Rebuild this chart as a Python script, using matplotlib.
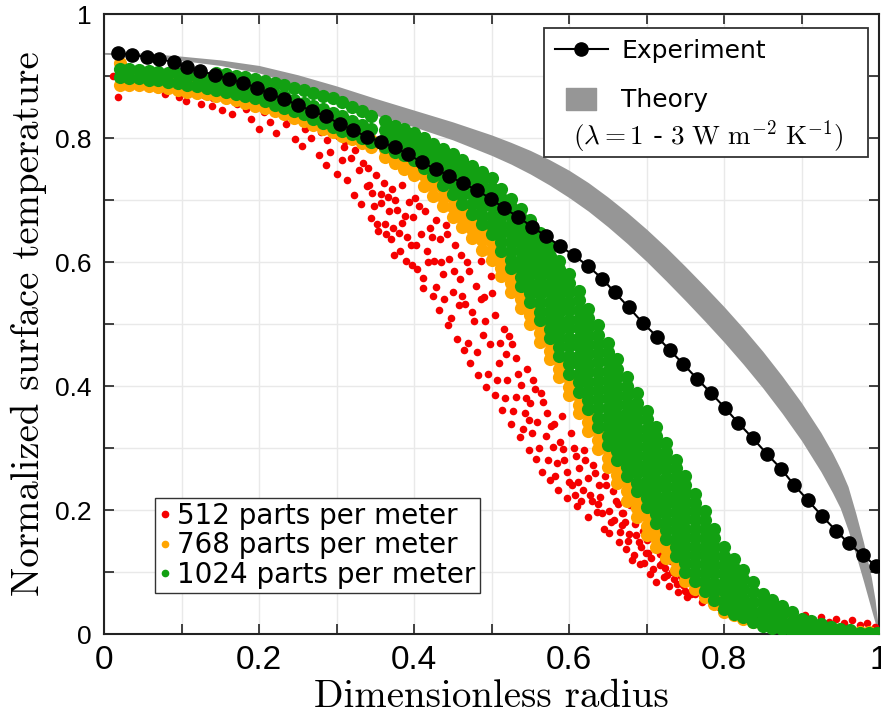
import numpy as np
import matplotlib
matplotlib.use('Agg')
import matplotlib.pyplot as plt
from matplotlib.lines import Line2D
from matplotlib.patches import Rectangle

plt.rcParams['mathtext.fontset'] = 'cm'

# ---------------- data ----------------
exp_x = [0.018, 0.036, 0.055, 0.071, 0.090, 0.107, 0.124, 0.143, 0.161, 0.179,
         0.197, 0.214, 0.232, 0.250, 0.268, 0.286, 0.304, 0.321, 0.339, 0.357,
         0.375, 0.392, 0.410, 0.428, 0.445, 0.463, 0.481, 0.499, 0.516, 0.534,
         0.552, 0.570, 0.588, 0.606, 0.624, 0.643, 0.659, 0.677, 0.695, 0.714,
         0.730, 0.747, 0.765, 0.783, 0.801, 0.818, 0.837, 0.855, 0.874, 0.890,
         0.908, 0.926, 0.945, 0.961, 0.979, 0.996]
exp_y = [0.937, 0.934, 0.931, 0.927, 0.923, 0.915, 0.908, 0.902, 0.895, 0.889,
         0.881, 0.871, 0.863, 0.853, 0.844, 0.835, 0.823, 0.813, 0.802, 0.794,
         0.785, 0.774, 0.761, 0.750, 0.739, 0.727, 0.716, 0.702, 0.687, 0.673,
         0.657, 0.642, 0.626, 0.611, 0.594, 0.573, 0.551, 0.527, 0.502, 0.479,
         0.458, 0.436, 0.412, 0.389, 0.365, 0.341, 0.316, 0.291, 0.266, 0.241,
         0.216, 0.191, 0.166, 0.146, 0.127, 0.110]

theory_x = [0.0, 0.05, 0.10, 0.15, 0.20, 0.25, 0.30, 0.35, 0.40, 0.45, 0.50, 0.525,
            0.55, 0.575, 0.60, 0.625, 0.65, 0.675, 0.70, 0.725, 0.75, 0.775, 0.80,
            0.825, 0.85, 0.875, 0.90, 0.925, 0.94, 0.95, 0.96, 0.97, 0.98, 0.99,
            0.995, 1.0]
theory_hi = [0.938, 0.937, 0.932, 0.926, 0.917, 0.902, 0.884, 0.864, 0.845, 0.826,
             0.805, 0.793, 0.780, 0.765, 0.748, 0.728, 0.705, 0.680, 0.653, 0.624,
             0.593, 0.561, 0.528, 0.493, 0.456, 0.416, 0.373, 0.325, 0.292, 0.267,
             0.238, 0.195, 0.148, 0.092, 0.055, 0.0]
theory_lo = [0.935, 0.933, 0.925, 0.917, 0.905, 0.885, 0.862, 0.837, 0.818, 0.797,
             0.772, 0.758, 0.742, 0.724, 0.704, 0.682, 0.657, 0.630, 0.601, 0.570,
             0.538, 0.505, 0.471, 0.435, 0.397, 0.356, 0.312, 0.262, 0.228, 0.203,
             0.168, 0.128, 0.085, 0.040, 0.018, 0.0]

# 512 parts per meter (red)
red_x = [0.012, 0.018,
         0.044, 0.051, 0.059, 0.062, 0.069,
         0.074, 0.079, 0.083, 0.092, 0.097,
         0.101, 0.106, 0.115, 0.117, 0.125, 0.129,
         0.131, 0.139, 0.141, 0.149, 0.152, 0.159,
         0.161, 0.165, 0.172, 0.174, 0.183, 0.185, 0.190,
         0.192, 0.198, 0.200, 0.207, 0.212, 0.214, 0.220,
         0.222, 0.226, 0.233, 0.235, 0.241, 0.246, 0.249,
         0.251, 0.255, 0.259, 0.266, 0.267, 0.273, 0.277, 0.280,
         0.281, 0.286, 0.288, 0.291, 0.297, 0.300, 0.302, 0.307, 0.310,
         0.311, 0.314, 0.319, 0.322, 0.324, 0.329, 0.332, 0.334, 0.339,
         0.340, 0.345, 0.346, 0.351, 0.354, 0.357, 0.361, 0.363, 0.367, 0.370,
         0.342, 0.348, 0.352, 0.358, 0.364, 0.368,
         0.371, 0.374, 0.378, 0.381, 0.384, 0.385, 0.390, 0.393, 0.396, 0.399,
         0.373, 0.376, 0.382, 0.388, 0.391, 0.397,
         0.401, 0.404, 0.409, 0.411, 0.414, 0.417, 0.420, 0.424, 0.426, 0.429,
         0.403, 0.407, 0.412, 0.418, 0.423, 0.428,
         0.432, 0.433, 0.438, 0.441, 0.444, 0.445, 0.450, 0.453, 0.456, 0.459,
         0.435, 0.439, 0.443, 0.448, 0.452, 0.458,
         0.460, 0.465, 0.466, 0.471, 0.472, 0.477, 0.480, 0.483, 0.486, 0.489,
         0.462, 0.468, 0.470, 0.475, 0.481, 0.487,
         0.490, 0.493, 0.498, 0.499, 0.504, 0.505, 0.510, 0.513, 0.516, 0.519,
         0.492, 0.496, 0.501, 0.507, 0.511, 0.517,
         0.520, 0.525, 0.526, 0.531, 0.532, 0.537, 0.538, 0.543, 0.546, 0.549,
         0.522, 0.528, 0.534, 0.540, 0.544, 0.548,
         0.550, 0.553, 0.558, 0.559, 0.564, 0.565, 0.570, 0.571, 0.576, 0.579,
         0.552, 0.556, 0.561, 0.567, 0.573, 0.577,
         0.580, 0.585, 0.586, 0.591, 0.592, 0.597, 0.598, 0.603, 0.604, 0.609,
         0.582, 0.588, 0.594, 0.600, 0.606, 0.608,
         0.610, 0.613, 0.618, 0.619, 0.624, 0.625, 0.630, 0.631, 0.636, 0.639,
         0.612, 0.616, 0.621, 0.627, 0.633, 0.637,
         0.640, 0.645, 0.646, 0.651, 0.652, 0.657, 0.658, 0.663, 0.664, 0.669,
         0.642, 0.648, 0.654, 0.660, 0.666, 0.668,
         0.670, 0.673, 0.678, 0.679, 0.684, 0.685, 0.690, 0.691, 0.696, 0.699,
         0.672, 0.676, 0.681, 0.687, 0.693, 0.697,
         0.700, 0.705, 0.706, 0.711, 0.712, 0.717, 0.718, 0.723, 0.724, 0.729,
         0.702, 0.708, 0.714, 0.720, 0.726, 0.728,
         0.732, 0.735, 0.738, 0.741, 0.745, 0.747, 0.752, 0.755, 0.759,
         0.733, 0.739, 0.744, 0.750, 0.756, 0.758,
         0.763, 0.767, 0.771, 0.774, 0.779, 0.784, 0.789, 0.794, 0.799,
         0.810, 0.820, 0.840, 0.860, 0.885, 0.895, 0.905, 0.915, 0.925, 0.935,
         0.945, 0.955, 0.965, 0.975, 0.985, 0.995]
red_y = [0.900, 0.866,
         0.893, 0.899, 0.884, 0.891, 0.879,
         0.886, 0.871, 0.889, 0.877, 0.866,
         0.880, 0.860, 0.872, 0.887, 0.855, 0.869,
         0.876, 0.851, 0.865, 0.883, 0.845, 0.861,
         0.870, 0.838, 0.855, 0.879, 0.846, 0.864, 0.830,
         0.858, 0.872, 0.815, 0.842, 0.861, 0.826, 0.849,
         0.808, 0.853, 0.834, 0.822, 0.846, 0.798, 0.830,
         0.842, 0.787, 0.815, 0.831, 0.800, 0.821, 0.772, 0.809,
         0.825, 0.756, 0.797, 0.778, 0.815, 0.742, 0.803, 0.764, 0.785,
         0.795, 0.732, 0.768, 0.708, 0.781, 0.748, 0.693, 0.760, 0.722,
         0.752, 0.671, 0.712, 0.740, 0.650, 0.695, 0.728, 0.662, 0.705, 0.637,
         0.725, 0.690, 0.662, 0.710, 0.645, 0.682,
         0.718, 0.612, 0.684, 0.646, 0.725, 0.663, 0.602, 0.697, 0.628, 0.672,
         0.655, 0.700, 0.618, 0.675, 0.640, 0.595,
         0.704, 0.588, 0.645, 0.558, 0.682, 0.617, 0.655, 0.545, 0.601, 0.668,
         0.628, 0.690, 0.575, 0.600, 0.640, 0.560,
         0.522, 0.637, 0.581, 0.660, 0.498, 0.605, 0.552, 0.628, 0.476, 0.572,
         0.600, 0.540, 0.645, 0.510, 0.585, 0.530,
         0.612, 0.458, 0.532, 0.585, 0.437, 0.505, 0.561, 0.418, 0.602, 0.482,
         0.545, 0.600, 0.470, 0.520, 0.455, 0.540,
         0.543, 0.398, 0.468, 0.577, 0.386, 0.515, 0.437, 0.361, 0.492, 0.452,
         0.505, 0.420, 0.550, 0.410, 0.470, 0.380,
         0.410, 0.338, 0.468, 0.382, 0.445, 0.318, 0.401, 0.357, 0.428, 0.296,
         0.480, 0.360, 0.420, 0.330, 0.380, 0.345,
         0.372, 0.409, 0.283, 0.342, 0.388, 0.262, 0.320, 0.357, 0.248, 0.301,
         0.325, 0.395, 0.300, 0.375, 0.280, 0.335,
         0.338, 0.276, 0.232, 0.352, 0.298, 0.219, 0.262, 0.325, 0.241, 0.287,
         0.255, 0.310, 0.280, 0.245, 0.300, 0.225,
         0.206, 0.268, 0.232, 0.296, 0.188, 0.251, 0.214, 0.273, 0.196, 0.240,
         0.245, 0.215, 0.280, 0.225, 0.260, 0.210,
         0.221, 0.170, 0.255, 0.198, 0.163, 0.231, 0.184, 0.209, 0.148, 0.176,
         0.195, 0.240, 0.180, 0.215, 0.165, 0.195,
         0.195, 0.137, 0.161, 0.208, 0.127, 0.178, 0.148, 0.113, 0.166, 0.131,
         0.180, 0.150, 0.120, 0.160, 0.140, 0.115,
         0.152, 0.096, 0.122, 0.141, 0.084, 0.111, 0.129, 0.092, 0.107, 0.078,
         0.130, 0.105, 0.150, 0.115, 0.095, 0.125,
         0.117, 0.088, 0.101, 0.068, 0.093, 0.079, 0.060, 0.085, 0.071,
         0.100, 0.080, 0.110, 0.070, 0.092, 0.065,
         0.064, 0.078, 0.052, 0.069, 0.058, 0.047, 0.062, 0.043, 0.051,
         0.042, 0.036, 0.030, 0.028, 0.032, 0.025, 0.030, 0.022, 0.028, 0.020,
         0.025, 0.018, 0.022, 0.015, 0.018, 0.012]

# 768 parts per meter (orange): column positions and the points in each column
orange_x = [0.020, 0.0325, 0.045, 0.0575, 0.070, 0.0825, 0.095, 0.1075, 0.120, 0.1325,
            0.145, 0.1575, 0.170, 0.1825, 0.195, 0.2075, 0.220, 0.2325, 0.245, 0.2575,
            0.270, 0.2825, 0.295, 0.3075, 0.320, 0.3325, 0.345,
            0.3625, 0.375, 0.3875, 0.400, 0.4125, 0.425, 0.4375, 0.450, 0.4625, 0.475,
            0.4875, 0.500, 0.5125, 0.525, 0.5375, 0.550, 0.5625, 0.575, 0.5875, 0.600,
            0.6125, 0.625, 0.6375, 0.650, 0.6625, 0.675, 0.6875, 0.700, 0.7125, 0.725,
            0.7375, 0.750, 0.7625, 0.775, 0.7875, 0.800, 0.8125, 0.825, 0.8375, 0.850,
            0.8625, 0.875, 0.8875, 0.900, 0.9125, 0.925, 0.9375, 0.950, 0.9625, 0.975,
            0.9875]
orange_y = [[0.886, 0.921], [0.885, 0.906], [0.885, 0.898], [0.884, 0.896], [0.883, 0.894],
            [0.881, 0.892], [0.878, 0.890], [0.875, 0.887], [0.873, 0.885], [0.871, 0.882],
            [0.868, 0.879], [0.864, 0.876], [0.861, 0.872], [0.857, 0.868], [0.852, 0.864],
            [0.848, 0.859], [0.843, 0.855], [0.838, 0.850], [0.833, 0.845], [0.828, 0.839],
            [0.821, 0.832], [0.815, 0.826], [0.809, 0.820], [0.804, 0.814], [0.798, 0.808],
            [0.792, 0.802], [0.786, 0.796],
            [0.770, 0.783], [0.760, 0.776], [0.750, 0.764], [0.740, 0.755], [0.723, 0.740],
            [0.707, 0.722, 0.735], [0.690, 0.705, 0.720], [0.673, 0.688, 0.703],
            [0.656, 0.671, 0.686], [0.638, 0.653, 0.668], [0.620, 0.635, 0.650],
            [0.603, 0.617, 0.632], [0.577, 0.591, 0.606], [0.552, 0.566, 0.580],
            [0.526, 0.540, 0.554], [0.500, 0.514, 0.527], [0.471, 0.485, 0.499],
            [0.443, 0.457, 0.471], [0.414, 0.428, 0.442], [0.385, 0.399, 0.413],
            [0.356, 0.370, 0.384], [0.328, 0.342, 0.356], [0.299, 0.313, 0.327],
            [0.270, 0.284, 0.298], [0.243, 0.257, 0.272], [0.215, 0.230, 0.245],
            [0.188, 0.203, 0.218], [0.160, 0.175, 0.190], [0.141, 0.155, 0.169],
            [0.123, 0.137, 0.148], [0.104, 0.118], [0.085, 0.097], [0.073, 0.083],
            [0.060, 0.070], [0.048, 0.056], [0.035, 0.042], [0.030], [0.025], [0.020],
            [0.015], [0.013], [0.012], [0.010], [0.008], [0.008], [0.007], [0.006],
            [0.005], [0.005], [0.004], [0.004]]

# 1024 parts per meter (green): column positions and the points in each column
green_x = [0.020, 0.0325, 0.045, 0.0575, 0.070, 0.0825, 0.095, 0.1075, 0.120, 0.1325,
           0.145, 0.1575, 0.170, 0.1825, 0.195, 0.2075, 0.220, 0.2325, 0.245, 0.2575,
           0.270, 0.2825, 0.295, 0.3075, 0.320, 0.3325, 0.345,
           0.3625, 0.375, 0.3875, 0.400, 0.4125, 0.425, 0.4375, 0.450, 0.4625, 0.475,
           0.4875, 0.500, 0.5125, 0.525, 0.5375, 0.550, 0.5625, 0.575, 0.5875, 0.600,
           0.6125, 0.625, 0.6375, 0.650, 0.6625, 0.675, 0.6875, 0.700, 0.7125, 0.725,
           0.7375, 0.750, 0.7625, 0.775, 0.7875, 0.800, 0.8125, 0.825, 0.8375, 0.850,
           0.8625, 0.875, 0.8875, 0.900, 0.9125, 0.925, 0.9375, 0.950, 0.9625, 0.975,
           0.9875, 0.998]
green_y = [[0.898, 0.912], [0.897, 0.911], [0.896, 0.910], [0.894, 0.908], [0.893, 0.906],
           [0.891, 0.905], [0.889, 0.903], [0.886, 0.900], [0.884, 0.898], [0.881, 0.895],
           [0.878, 0.892, 0.905], [0.875, 0.889, 0.903], [0.871, 0.886, 0.900],
           [0.867, 0.882, 0.898], [0.864, 0.880, 0.895], [0.859, 0.876, 0.892],
           [0.854, 0.871, 0.889], [0.849, 0.867, 0.885], [0.844, 0.862, 0.880],
           [0.838, 0.857, 0.877], [0.831, 0.852, 0.873], [0.825, 0.846, 0.868],
           [0.818, 0.841, 0.864], [0.812, 0.835, 0.858], [0.806, 0.828, 0.850],
           [0.800, 0.821, 0.843], [0.794, 0.815, 0.836],
           [0.785, 0.799, 0.813, 0.827],
           [0.778, 0.792, 0.806, 0.820],
           [0.772, 0.786, 0.800, 0.814],
           [0.765, 0.779, 0.794, 0.808],
           [0.751, 0.767, 0.784, 0.800],
           [0.738, 0.756, 0.773, 0.791],
           [0.724, 0.739, 0.753, 0.768, 0.783],
           [0.710, 0.726, 0.743, 0.759, 0.775],
           [0.694, 0.708, 0.722, 0.737, 0.751, 0.765],
           [0.678, 0.693, 0.709, 0.724, 0.740, 0.755],
           [0.661, 0.675, 0.689, 0.703, 0.717, 0.731, 0.745],
           [0.645, 0.660, 0.675, 0.690, 0.705, 0.720, 0.735],
           [0.618, 0.632, 0.646, 0.660, 0.674, 0.688, 0.703, 0.718],
           [0.590, 0.604, 0.618, 0.632, 0.646, 0.660, 0.674, 0.688, 0.702],
           [0.562, 0.576, 0.590, 0.603, 0.617, 0.630, 0.644, 0.657, 0.671, 0.685],
           [0.535, 0.550, 0.565, 0.580, 0.594, 0.609, 0.624, 0.638, 0.653, 0.668],
           [0.506, 0.520, 0.534, 0.548, 0.562, 0.576, 0.590, 0.604, 0.618, 0.632, 0.646],
           [0.478, 0.492, 0.507, 0.521, 0.536, 0.551, 0.565, 0.580, 0.595, 0.609, 0.624],
           [0.449, 0.463, 0.477, 0.491, 0.505, 0.519, 0.533, 0.547, 0.561, 0.575, 0.589, 0.602],
           [0.420, 0.435, 0.449, 0.464, 0.478, 0.493, 0.507, 0.522, 0.536, 0.551, 0.566, 0.580],
           [0.391, 0.406, 0.420, 0.435, 0.449, 0.464, 0.478, 0.493, 0.508, 0.523, 0.538, 0.553],
           [0.363, 0.377, 0.392, 0.407, 0.422, 0.436, 0.451, 0.466, 0.480, 0.495, 0.510, 0.525],
           [0.334, 0.349, 0.364, 0.379, 0.393, 0.408, 0.423, 0.438, 0.453, 0.468, 0.483, 0.498],
           [0.305, 0.320, 0.335, 0.350, 0.365, 0.380, 0.395, 0.410, 0.425, 0.440, 0.455, 0.470],
           [0.280, 0.295, 0.309, 0.324, 0.339, 0.354, 0.369, 0.384, 0.399, 0.414, 0.428, 0.443],
           [0.255, 0.270, 0.284, 0.299, 0.313, 0.328, 0.342, 0.357, 0.371, 0.386, 0.400, 0.415],
           [0.230, 0.244, 0.259, 0.273, 0.287, 0.302, 0.316, 0.330, 0.345, 0.359, 0.373, 0.388],
           [0.205, 0.219, 0.233, 0.247, 0.261, 0.275, 0.289, 0.303, 0.317, 0.331, 0.346, 0.360],
           [0.179, 0.193, 0.207, 0.221, 0.235, 0.249, 0.264, 0.278, 0.292, 0.306, 0.320, 0.334],
           [0.153, 0.167, 0.181, 0.195, 0.209, 0.223, 0.237, 0.252, 0.266, 0.280, 0.294, 0.308],
           [0.126, 0.140, 0.154, 0.168, 0.182, 0.196, 0.211, 0.225, 0.239, 0.253, 0.267, 0.281],
           [0.100, 0.114, 0.128, 0.142, 0.156, 0.170, 0.185, 0.199, 0.213, 0.227, 0.241, 0.255],
           [0.085, 0.099, 0.113, 0.127, 0.141, 0.155, 0.170, 0.184, 0.198, 0.212, 0.226],
           [0.070, 0.084, 0.098, 0.113, 0.127, 0.141, 0.155, 0.169, 0.184, 0.198],
           [0.055, 0.069, 0.083, 0.098, 0.112, 0.126, 0.140, 0.155, 0.169],
           [0.040, 0.054, 0.069, 0.083, 0.097, 0.111, 0.126, 0.140],
           [0.033, 0.048, 0.062, 0.077, 0.092, 0.106, 0.121],
           [0.027, 0.042, 0.057, 0.072, 0.088, 0.103],
           [0.020, 0.036, 0.052, 0.068, 0.084],
           [0.013, 0.026, 0.039, 0.052, 0.065],
           [0.010, 0.025, 0.040, 0.055],
           [0.008, 0.020, 0.033, 0.045],
           [0.005, 0.020, 0.035],
           [0.003, 0.014, 0.025],
           [0.002, 0.011, 0.021],
           [0.002, 0.016],
           [0.001, 0.012],
           [0.001, 0.008],
           [0.001, 0.007],
           [0.002], [0.002], [0.002]]

series_labels = ['512 parts per meter', '768 parts per meter', '1024 parts per meter']
series_colors = ['#f50000', '#ffa500', '#12a012']

xticks = [0.0, 0.1, 0.2, 0.3, 0.4, 0.5, 0.6, 0.7, 0.8, 0.9, 1.0]
xtick_labels = ['0', '', '0.2', '', '0.4', '', '0.6', '', '0.8', '', '1']
yticks = [0.0, 0.1, 0.2, 0.3, 0.4, 0.5, 0.6, 0.7, 0.8, 0.9, 1.0]
ytick_labels = ['0', '', '0.2', '', '0.4', '', '0.6', '', '0.8', '', '1']


def flatten(cols_x, cols_y):
    xs, ys = [], []
    for x, col in zip(cols_x, cols_y):
        for y in col:
            xs.append(x)
            ys.append(y)
    return xs, ys


ox, oy = flatten(orange_x, orange_y)
gx, gy = flatten(green_x, green_y)

# ---------------- figure ----------------
fig = plt.figure(figsize=(8.81, 7.2), dpi=100)
ax = fig.add_axes([104 / 881, 86 / 720, 775 / 881, 620 / 720])
ax.set_xlim(0, 1)
ax.set_ylim(0, 1)

ax.fill_between(theory_x, theory_lo, theory_hi, color='#969696', lw=0, zorder=2)
ax.scatter(red_x, red_y, s=30, c=series_colors[0], linewidths=0, zorder=3)
ax.scatter(ox, oy, s=90, c=series_colors[1], linewidths=0, zorder=4)
ax.scatter(gx, gy, s=90, c=series_colors[2], linewidths=0, zorder=5)
ax.plot(exp_x, exp_y, '-o', color='black', ms=9.5, lw=1.5, zorder=6)

ax.grid(True, color='#e9e9e9', lw=1)
ax.set_axisbelow(True)
for sp in ax.spines.values():
    sp.set_linewidth(1.5)
    sp.set_color('#222222')

ax.set_xticks(xticks)
ax.set_xticklabels(xtick_labels, fontfamily=['Liberation Sans Narrow', 'Liberation Sans'],
                   fontsize=24)
ax.set_yticks(yticks)
ax.set_yticklabels(ytick_labels, fontfamily='Liberation Sans', fontsize=19)
ax.tick_params(which='both', direction='in', length=7, width=1.2, top=True, right=True,
               color='#222222')
ax.tick_params(axis='x', pad=8)
ax.tick_params(axis='y', pad=9)

ax.set_xlabel('Dimensionless radius', fontname='cmr10', fontsize=28, labelpad=2)
ax.set_ylabel('Normalized surface temperature', fontname='cmr10', fontsize=28, labelpad=6)

# ---- upper right legend (Experiment / Theory) ----
frame = Rectangle((0.568, 0.769), 0.418, 0.208, transform=ax.transAxes,
                  facecolor='white', edgecolor='#333333', lw=1.3, zorder=7)
ax.add_patch(frame)
rect_marker = [(-1.36, -1), (1.36, -1), (1.36, 1), (-1.36, 1), (-1.36, -1)]
h_exp = Line2D([], [], color='black', marker='o', ms=9.5, lw=1.5)
h_th = Line2D([], [], color='#969696', marker=rect_marker, ms=21.6, ls='none')
leg1 = ax.legend([h_exp, h_th], ['Experiment', 'Theory'], loc='upper left',
                 bbox_to_anchor=((555 - 104) / 775, (634 - 39) / 620), frameon=False,
                 fontsize=18, handlelength=2.1, handletextpad=0.55, labelspacing=1.02,
                 borderpad=0, borderaxespad=0)
leg1.set_zorder(8)
ax.add_artist(leg1)
ax.text((573 - 104) / 775, (634 - 137) / 620,
        r'$(\lambda = 1$ - $3\ \mathrm{W\ m}^{-2}\ \mathrm{K}^{-1})$',
        transform=ax.transAxes, fontsize=19.5, va='center', ha='left', zorder=9)

# ---- lower left legend (scatter series) ----
dots = [Line2D([], [], color=c, marker='o', ms=4.5, ls='none') for c in series_colors]
leg2 = ax.legend(dots, series_labels, loc='lower left',
                 bbox_to_anchor=((155 - 104) / 775, (634 - 593) / 620), borderaxespad=0,
                 fontsize=20, handlelength=0.4, handletextpad=0.25, labelspacing=0.05,
                 borderpad=0.15, fancybox=False, edgecolor='#333333', framealpha=1)
leg2.get_frame().set_linewidth(1.0)
leg2.set_zorder(8)

fig.savefig('out.png', dpi=100)
